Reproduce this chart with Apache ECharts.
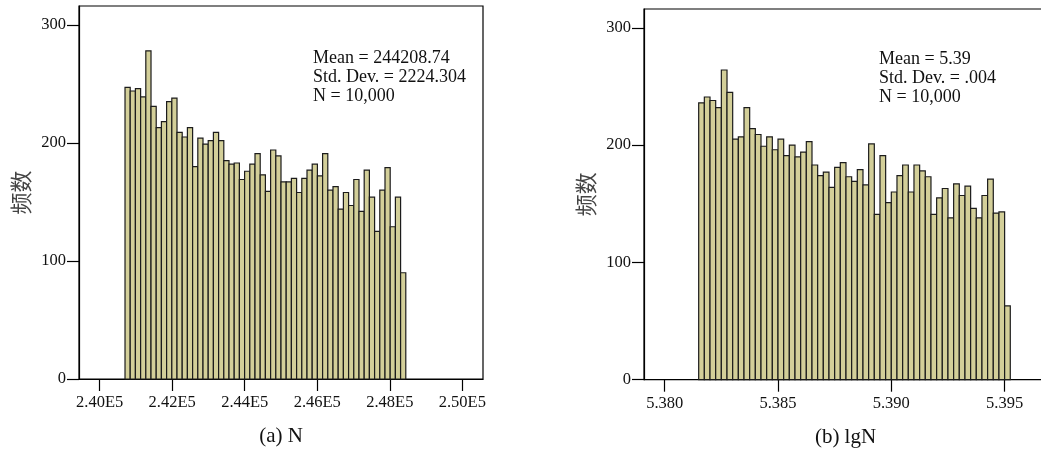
<!DOCTYPE html>
<html>
<head>
<meta charset="utf-8">
<script src="https://cdn.jsdelivr.net/npm/echarts@6/dist/echarts.min.js"></script>
<style>
  html, body { margin: 0; padding: 0; background: #fff; }
  #chart { width: 1041px; height: 453px; }
</style>
</head>
<body>
<div id="chart"></div>
<script>
// (a) N : histogram of N, 54 bins
const binStartA = 240698;
const binWidthA = 143.4;
const countsA = [247, 244, 246, 239, 278, 231, 213, 218, 235, 238, 209, 205, 213, 180, 204, 199, 202, 209,
  202, 185, 182, 183, 169, 176, 182, 191, 173, 159, 194, 189, 167, 167, 170, 158, 170, 177, 182, 172,
  191, 160, 163, 144, 158, 147, 169, 142, 177, 154, 125, 160, 179, 129, 154, 90];
const tickValuesA = [240000, 242000, 244000, 246000, 248000, 250000];
const tickLabelsA = ['2.40E5', '2.42E5', '2.44E5', '2.46E5', '2.48E5', '2.50E5'];
const statsA = ['Mean = 244208.74', 'Std. Dev. = 2224.304', 'N = 10,000'];

// (b) lgN : histogram of lgN, 55 bins
const binStartB = 5.3815;
const binWidthB = 0.00025;
const countsB = [236, 241, 238, 232, 264, 245, 205, 207, 232, 214, 209, 199, 207, 196, 205, 191, 200, 190,
  194, 203, 183, 174, 177, 164, 181, 185, 173, 169, 179, 166, 201, 141, 191, 151, 160, 174, 183, 160,
  183, 178, 173, 141, 155, 163, 138, 167, 157, 165, 146, 138, 157, 171, 142, 143, 63];
const tickValuesB = [5.380, 5.385, 5.390, 5.395];
const tickLabelsB = ['5.380', '5.385', '5.390', '5.395'];
const statsB = ['Mean = 5.39', 'Std. Dev. = .004', 'N = 10,000'];

const yTicks = [0, 100, 200, 300];
const yName = '频数';
const titleA = '(a) N';
const titleB = '(b) lgN';

const SERIF = '"Liberation Serif", "Times New Roman", serif';
const BAR_FILL = '#d3cf99';
const BAR_EDGE = '#1c1c1c';

function toBins(start, width, counts) {
  return counts.map((c, i) => [start + i * width, start + (i + 1) * width, c]);
}

function renderBin(params, api) {
  const p0 = api.coord([api.value(0), api.value(2)]);
  const p1 = api.coord([api.value(1), 0]);
  return {
    type: 'rect',
    shape: { x: p0[0], y: p0[1], width: p1[0] - p0[0], height: p1[1] - p0[1] },
    style: { fill: BAR_FILL, stroke: BAR_EDGE, lineWidth: 1.2 }
  };
}

function labelFor(values, labels) {
  return function (v) {
    let best = 0;
    for (let i = 1; i < values.length; i++) {
      if (Math.abs(values[i] - v) < Math.abs(values[best] - v)) best = i;
    }
    return labels[best];
  };
}

function xAxisFor(gridIndex, min, max, values, labels, name) {
  return {
    type: 'value', gridIndex, min, max,
    name, nameLocation: 'middle', nameGap: 47,
    nameTextStyle: { fontFamily: SERIF, fontSize: 21, color: '#111' },
    axisLine: { show: true, lineStyle: { color: '#000', width: 1.2 } },
    axisTick: { show: true, length: 12, customValues: values, lineStyle: { color: '#000', width: 1.2 } },
    axisLabel: { customValues: values, formatter: labelFor(values, labels), margin: 15,
      fontFamily: SERIF, fontSize: 16.5, color: '#111' },
    splitLine: { show: false }
  };
}

function yAxisFor(gridIndex) {
  return {
    type: 'value', gridIndex, min: 0, max: 316,
    name: yName, nameLocation: 'middle', nameRotate: 90, nameGap: 47,
    nameTextStyle: { fontFamily: '"Noto Sans CJK SC", sans-serif', fontSize: 22, color: '#444' },
    axisLine: { show: true, lineStyle: { color: '#000', width: 1.2 } },
    axisTick: { show: true, length: 12, customValues: yTicks, lineStyle: { color: '#000', width: 1.2 } },
    axisLabel: { customValues: yTicks, margin: 13, fontFamily: SERIF, fontSize: 16.5, color: '#111' },
    splitLine: { show: false }
  };
}

function statsText(x, y, lines) {
  return {
    type: 'text', x, y,
    style: { text: lines.join('\n'), font: '18px ' + SERIF, lineHeight: 19, fill: '#111',
      verticalAlign: 'top' }
  };
}

const chart = echarts.init(document.getElementById('chart'), null, { renderer: 'canvas' });
chart.setOption({
  animation: false,
  backgroundColor: '#fff',
  grid: [
    { left: 79, top: 6, width: 404, height: 373, outerBoundsMode: 'none', containLabel: false,
      show: true, borderColor: '#000', borderWidth: 1.2 },
    { left: 644, top: 9, width: 403, height: 370.7, outerBoundsMode: 'none', containLabel: false,
      show: true, borderColor: '#000', borderWidth: 1.2 }
  ],
  xAxis: [
    xAxisFor(0, 239429, 250571, tickValuesA, tickLabelsA, titleA),
    xAxisFor(1, 5.379087, 5.39687, tickValuesB, tickLabelsB, titleB)
  ],
  yAxis: [yAxisFor(0), yAxisFor(1)],
  series: [
    { type: 'custom', xAxisIndex: 0, yAxisIndex: 0, renderItem: renderBin,
      encode: { x: [0, 1], y: 2 }, data: toBins(binStartA, binWidthA, countsA) },
    { type: 'custom', xAxisIndex: 1, yAxisIndex: 1, renderItem: renderBin,
      encode: { x: [0, 1], y: 2 }, data: toBins(binStartB, binWidthB, countsB) }
  ],
  graphic: [
    statsText(313, 48.5, statsA),
    statsText(879, 49.5, statsB)
  ]
});
</script>
</body>
</html>
